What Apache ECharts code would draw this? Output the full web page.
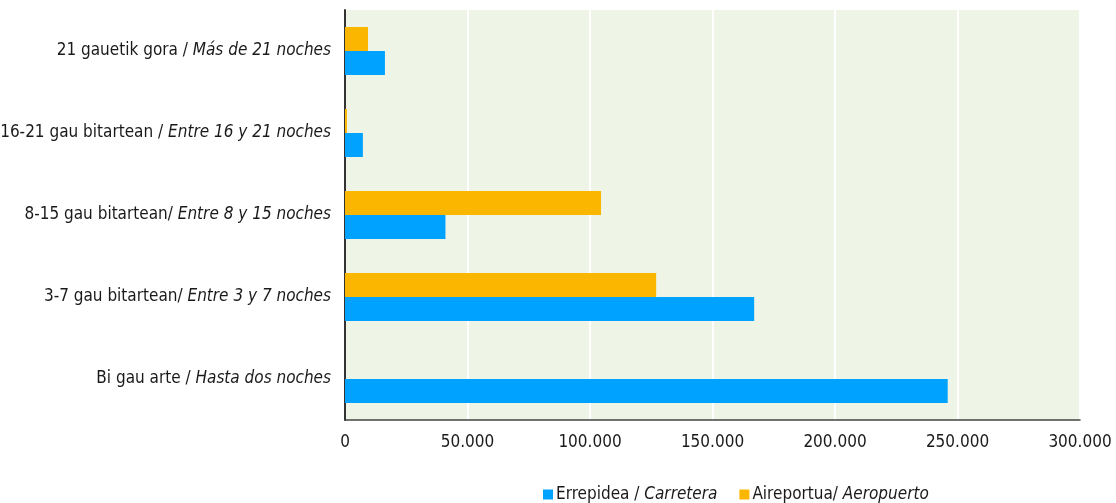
<!DOCTYPE html>
<html><head><meta charset="utf-8">
<script src="https://cdn.jsdelivr.net/npm/echarts@6/dist/echarts.min.js"></script>
<style>html,body{margin:0;padding:0;background:#fff}#c{width:1116px;height:503px}</style>
</head><body><div id="c"></div>
<script>
const catsEu = ['Bi gau arte / ', '3-7 gau bitartean/ ', '8-15 gau bitartean/ ', '16-21 gau bitartean / ', '21 gauetik gora / '];
const catsEs = ['Hasta dos noches', 'Entre 3 y 7 noches', 'Entre 8 y 15 noches', 'Entre 16 y 21 noches', 'Más de 21 noches'];
const carretera = [246000, 167000, 41000, 7300, 16300];
const aeropuerto = [0, 127000, 104500, 800, 9400];
const xTicks = [0, 50000, 100000, 150000, 200000, 250000, 300000];
const seriesNames = ['Errepidea / {i|Carretera}', 'Aireportua/ {i|Aeropuerto}'];

const FONT = '"Liberation Sans Narrow", "DejaVu Sans Condensed", "Roboto Condensed", sans-serif';
const cats = catsEu.map((e, k) => e + '|' + catsEs[k]);
const chart = echarts.init(document.getElementById('c'));
chart.setOption({
  animation: false,
  grid: {left: 345, right: 36, top: 10, bottom: 83, backgroundColor: '#eef4e6', show: true, borderWidth: 0, outerBoundsMode: 'none', containLabel: false},
  xAxis: {
    type: 'value', min: 0, max: 300000, interval: 50000,
    axisLine: {show: true, lineStyle: {color: '#444', width: 1.5}},
    axisTick: {show: false},
    splitLine: {show: true, lineStyle: {color: '#ffffff', width: 2}},
    axisLabel: {
      color: '#1a1a1a', fontFamily: FONT, fontSize: 17, margin: 14,
      formatter: v => xTicks.includes(v) ? (v === 0 ? '0' : v.toLocaleString('de-DE')) : ''
    }
  },
  yAxis: {
    type: 'category', data: cats,
    axisLine: {show: true, lineStyle: {color: '#333', width: 2}},
    axisTick: {show: false},
    splitLine: {show: false},
    axisLabel: {
      margin: 14, fontFamily: FONT, fontSize: 17, color: '#1a1a1a',
      formatter: v => { const p = v.split('|'); return '{a|' + p[0] + '}{i|' + p[1] + '}'; },
      rich: {
        a: {fontFamily: FONT, fontSize: 17, color: '#1a1a1a'},
        i: {fontFamily: FONT, fontSize: 17, color: '#1a1a1a', fontStyle: 'italic'}
      }
    }
  },
  legend: {
    left: 538, top: 481, itemWidth: 10, itemHeight: 10, itemGap: 22, icon: 'rect',
    data: ['c', 'a'],
    formatter: n => n === 'c' ? seriesNames[0] : seriesNames[1],
    textStyle: {
      fontFamily: FONT, fontSize: 17, color: '#1a1a1a', padding: [0, 0, 0, -2],
      rich: {i: {fontFamily: FONT, fontSize: 17, color: '#1a1a1a', fontStyle: 'italic'}}
    }
  },
  series: [
    {name: 'a', type: 'bar', data: aeropuerto, barWidth: 24, barGap: '0%', itemStyle: {color: '#fbb600'}},
    {name: 'c', type: 'bar', data: carretera, barWidth: 24, barGap: '0%', itemStyle: {color: '#00a2ff'}}
  ]
});
</script></body></html>
